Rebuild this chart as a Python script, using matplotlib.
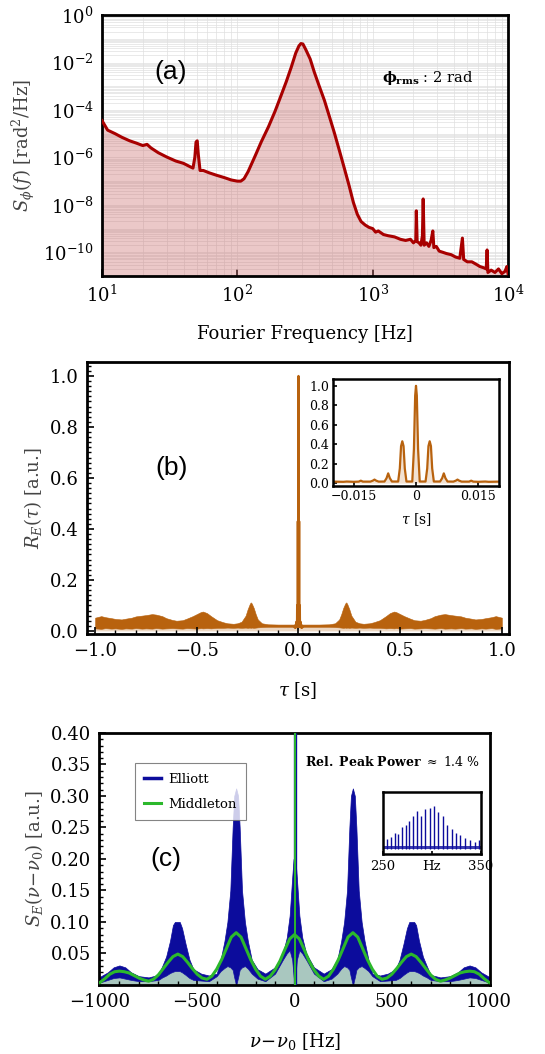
import numpy as np
import matplotlib
matplotlib.use("Agg")
import matplotlib.pyplot as plt
from matplotlib.ticker import (FixedLocator, LogLocator, LogFormatterMathtext,
                               MultipleLocator, NullFormatter, FuncFormatter)

plt.rcParams['font.family'] = ['DejaVu Serif']
plt.rcParams['mathtext.fontset'] = 'dejavuserif'

### DATA ###
# (a) phase noise PSD, frequency [Hz] and log10 of S_phi
a_freq = [10, 11, 12.5, 14, 16, 18, 20, 21.5, 23, 26, 30, 35, 40, 45, 47, 48.5, 49.5, 50.5,
          51.5, 53, 56, 62, 70, 80, 90, 100, 106, 112, 120, 135, 150, 170, 190, 210, 230,
          250, 270, 285, 295, 305, 320, 345, 370, 400, 440, 480, 520, 570, 620, 670, 720,
          770, 820, 880, 940, 1000, 1050, 1100, 1200, 1300, 1450, 1600, 1750, 1900, 2000,
          2080, 2100, 2130, 2200, 2270, 2330, 2360, 2400, 2500, 2600, 2700, 2780, 2830,
          2950, 3100, 3300, 3500, 3800, 4100, 4400, 4600, 4700, 5000, 5400, 5800, 6200,
          6600, 6900, 7000, 7100, 7500, 8000, 8500, 9000, 9500, 9800, 10000]
a_logpsd = [-4.45, -4.85, -5.0, -5.15, -5.3, -5.4, -5.5, -5.45, -5.6, -5.8, -5.98, -6.15,
            -6.25, -6.4, -6.45, -6.0, -5.35, -5.3, -5.9, -6.55, -6.55, -6.65, -6.75, -6.85,
            -6.95, -7.0, -7.0, -6.9, -6.6, -5.95, -5.35, -4.7, -4.05, -3.4, -2.8, -2.2,
            -1.6, -1.3, -1.2, -1.22, -1.45, -1.85, -2.4, -2.95, -3.6, -4.3, -4.95, -5.75,
            -6.5, -7.2, -7.9, -8.4, -8.7, -8.85, -8.95, -9.0, -9.15, -9.1, -9.25, -9.3,
            -9.35, -9.45, -9.5, -9.45, -9.6, -9.5, -8.25, -9.55, -9.6, -9.7, -9.3, -7.75,
            -9.7, -9.6, -9.75, -9.5, -9.1, -9.8, -9.75, -9.95, -10.0, -10.05, -10.1, -10.2,
            -10.25, -9.4, -10.3, -10.4, -10.4, -10.5, -10.6, -10.65, -10.7, -9.9, -10.85,
            -10.75, -10.85, -10.7, -10.9, -10.8, -10.6, -10.9]

# (b) field autocorrelation, envelope of the fast oscillation
b_tau = [-1.0, -0.97, -0.95, -0.92, -0.9, -0.87, -0.85, -0.82, -0.8, -0.77, -0.75, -0.72,
         -0.7, -0.67, -0.65, -0.62, -0.6, -0.57, -0.55, -0.52, -0.5, -0.48, -0.47, -0.45,
         -0.43, -0.4, -0.37, -0.35, -0.32, -0.3, -0.28, -0.26, -0.25, -0.24, -0.235, -0.23,
         -0.22, -0.21, -0.2, -0.18, -0.15, -0.1, -0.05, 0.0,
         0.05, 0.1, 0.15, 0.18, 0.2, 0.21, 0.22, 0.23, 0.235, 0.24, 0.25, 0.26, 0.28, 0.3,
         0.32, 0.35, 0.37, 0.4, 0.43, 0.45, 0.47, 0.48, 0.5, 0.52, 0.55, 0.57, 0.6, 0.62,
         0.65, 0.67, 0.7, 0.72, 0.75, 0.77, 0.8, 0.82, 0.85, 0.87, 0.9, 0.92, 0.95, 0.97, 1.0]
b_upper = [0.052, 0.058, 0.054, 0.050, 0.047, 0.045, 0.048, 0.052, 0.057, 0.060, 0.062,
           0.066, 0.064, 0.058, 0.050, 0.043, 0.040, 0.042, 0.048, 0.058, 0.066, 0.074,
           0.076, 0.070, 0.058, 0.042, 0.034, 0.030, 0.028, 0.030, 0.036, 0.060, 0.085,
           0.105, 0.112, 0.108, 0.090, 0.065, 0.045, 0.030, 0.026, 0.025, 0.025, 0.025,
           0.025, 0.025, 0.026, 0.030, 0.045, 0.065, 0.090, 0.108, 0.112, 0.105, 0.085,
           0.060, 0.036, 0.030, 0.028, 0.030, 0.034, 0.042, 0.058, 0.070, 0.076, 0.074,
           0.066, 0.058, 0.048, 0.042, 0.040, 0.043, 0.050, 0.058, 0.064, 0.066, 0.062,
           0.060, 0.057, 0.052, 0.048, 0.045, 0.047, 0.050, 0.054, 0.058, 0.052]
b_lower = [0.010, 0.008, 0.011, 0.009, 0.010, 0.008, 0.010, 0.009, 0.011, 0.009, 0.010,
           0.009, 0.011, 0.009, 0.010, 0.011, 0.010, 0.009, 0.011, 0.010, 0.009, 0.011,
           0.010, 0.011, 0.010, 0.012, 0.012, 0.013, 0.012, 0.013, 0.012, 0.013, 0.012,
           0.013, 0.012, 0.013, 0.012, 0.013, 0.014, 0.015, 0.016, 0.016, 0.016, 0.016,
           0.016, 0.016, 0.016, 0.015, 0.014, 0.013, 0.012, 0.013, 0.012, 0.013, 0.012,
           0.013, 0.012, 0.013, 0.012, 0.013, 0.012, 0.012, 0.010, 0.011, 0.010, 0.011,
           0.009, 0.010, 0.011, 0.009, 0.010, 0.011, 0.010, 0.009, 0.011, 0.009, 0.010,
           0.009, 0.011, 0.009, 0.010, 0.008, 0.010, 0.009, 0.011, 0.008, 0.010]

# (b) inset, central part of the autocorrelation
bi_tau = [-0.020, -0.0175, -0.0167, -0.0150, -0.0138, -0.0133, -0.0128, -0.0110, -0.0104,
          -0.0100, -0.0096, -0.0090, -0.0076, -0.0071, -0.0067, -0.0063, -0.0058, -0.0043,
          -0.0039, -0.0036, -0.0033, -0.0030, -0.0027, -0.0023, -0.0009, -0.0005, -0.0002,
          0.0, 0.0002, 0.0005, 0.0009, 0.0023, 0.0027, 0.0030, 0.0033, 0.0036, 0.0039,
          0.0043, 0.0058, 0.0063, 0.0067, 0.0071, 0.0076, 0.0090, 0.0096, 0.0100, 0.0104,
          0.0110, 0.0128, 0.0133, 0.0138, 0.0150, 0.0167, 0.0175, 0.020]
bi_r = [0.015, 0.013, 0.016, 0.013, 0.015, 0.025, 0.015, 0.015, 0.025, 0.036, 0.025,
        0.015, 0.016, 0.050, 0.100, 0.050, 0.016, 0.016, 0.150, 0.380, 0.430, 0.380,
        0.150, 0.016, 0.016, 0.350, 0.900, 1.0, 0.900, 0.350, 0.016, 0.016, 0.150, 0.380,
        0.430, 0.380, 0.150, 0.016, 0.016, 0.050, 0.100, 0.050, 0.016, 0.015, 0.025,
        0.036, 0.025, 0.015, 0.015, 0.025, 0.015, 0.013, 0.016, 0.013, 0.015]

# (c) optical spectrum: Elliott (envelopes) and Middleton
c_nu = [-1000, -960, -930, -900, -870, -840, -800, -750, -700, -680, -660, -640, -625,
        -615, -590, -578, -560, -540, -520, -480, -440, -400, -380, -360, -345, -330,
        -318, -310, -300, -290, -282, -270, -255, -240, -220, -190, -150, -100, -60,
        -40, -25, -12, -5, 0,
        5, 12, 25, 40, 60, 100, 150, 190, 220, 240, 255, 270, 282, 290, 300, 310, 318,
        330, 345, 360, 380, 400, 440, 480, 520, 540, 560, 578, 590, 615, 625, 640, 660,
        680, 700, 750, 800, 840, 870, 900, 930, 960, 1000]
c_ell_upper = [0.013, 0.020, 0.028, 0.031, 0.028, 0.020, 0.014, 0.012, 0.016, 0.030,
               0.045, 0.070, 0.095, 0.100, 0.100, 0.090, 0.065, 0.040, 0.025, 0.018,
               0.015, 0.018, 0.040, 0.070, 0.100, 0.150, 0.250, 0.300, 0.312, 0.300,
               0.250, 0.150, 0.100, 0.070, 0.040, 0.025, 0.018, 0.028, 0.050, 0.075,
               0.110, 0.170, 0.200, 0.200,
               0.200, 0.170, 0.110, 0.075, 0.050, 0.028, 0.018, 0.025, 0.040, 0.070,
               0.100, 0.150, 0.250, 0.300, 0.312, 0.300, 0.250, 0.150, 0.100, 0.070,
               0.040, 0.018, 0.015, 0.018, 0.025, 0.040, 0.065, 0.090, 0.100, 0.100,
               0.095, 0.070, 0.045, 0.030, 0.016, 0.012, 0.014, 0.020, 0.028, 0.031,
               0.028, 0.020, 0.013]
c_ell_lower = [0.004, 0.008, 0.011, 0.012, 0.010, 0.008, 0.006, 0.006, 0.008, 0.012,
               0.015, 0.019, 0.021, 0.022, 0.022, 0.020, 0.016, 0.011, 0.008, 0.007,
               0.006, 0.014, 0.022, 0.027, 0.030, 0.028, 0.024, 0.012, 0.0, 0.012,
               0.024, 0.028, 0.030, 0.026, 0.018, 0.010, 0.006, 0.018, 0.040, 0.050,
               0.055, 0.040, 0.015, 0.0,
               0.015, 0.040, 0.055, 0.050, 0.040, 0.018, 0.006, 0.010, 0.018, 0.026,
               0.030, 0.028, 0.024, 0.012, 0.0, 0.012, 0.024, 0.028, 0.030, 0.027,
               0.022, 0.014, 0.006, 0.007, 0.008, 0.011, 0.016, 0.020, 0.022, 0.022,
               0.021, 0.019, 0.015, 0.012, 0.008, 0.006, 0.006, 0.008, 0.010, 0.012,
               0.011, 0.008, 0.004]
c_mid_nu = list(range(-1000, 1001, 25))
c_mid = [0.004, 0.010, 0.017, 0.021, 0.022, 0.021, 0.019, 0.015, 0.011, 0.008, 0.006,
         0.009, 0.016, 0.026, 0.036, 0.045, 0.049, 0.045, 0.036, 0.026, 0.017, 0.011,
         0.009, 0.014, 0.025, 0.040, 0.058, 0.076, 0.083, 0.076, 0.058, 0.040, 0.025,
         0.014, 0.009, 0.014, 0.024, 0.038, 0.056, 0.073, 0.080, 0.073, 0.056, 0.038,
         0.024, 0.014, 0.009, 0.014, 0.025, 0.040, 0.058, 0.076, 0.083, 0.076, 0.058,
         0.040, 0.025, 0.014, 0.009, 0.011, 0.017, 0.026, 0.036, 0.045, 0.049, 0.045,
         0.036, 0.026, 0.016, 0.009, 0.006, 0.008, 0.011, 0.015, 0.019, 0.021, 0.022,
         0.021, 0.017, 0.010, 0.004]

# (c) inset, comb lines between 250 and 350 Hz
ci_nu = [254, 258, 262, 265, 269, 273, 277, 281, 285, 289, 293, 298, 302, 306, 311, 315,
         320, 324, 329, 334, 339, 344, 348]
ci_height = [0.096, 0.112, 0.132, 0.128, 0.176, 0.184, 0.212, 0.248, 0.276, 0.248, 0.288,
             0.296, 0.312, 0.268, 0.244, 0.184, 0.160, 0.136, 0.120, 0.104, 0.092, 0.080,
             0.092]

### STYLE ###
red_line = '#a80000'
red_fill = '#c86464'
orange = '#b8620e'
blue = '#0c0c9c'
teal = '#a9c7bf'
green = '#2cb82c'
label_gray = '#444444'


def minus_fmt(fmt):
    """ >>> tick formatter with a real minus sign """
    return FuncFormatter(lambda v, pos: (fmt % v).replace('-', '\u2212'))


def style_axes(ax, lw=2.0, size=13, pad=6):
    for s in ax.spines.values():
        s.set_linewidth(lw)
    ax.tick_params(which='both', direction='in', labelsize=size, top=False, right=False,
                   pad=pad)
    ax.tick_params(which='major', length=5, width=1.2)
    ax.tick_params(which='minor', length=3, width=1.0)


fig = plt.figure(figsize=(5.45, 10.54), dpi=100)

### (a) ###
ax_a = fig.add_axes([0.1872, 0.7381, 0.745, 0.2476])
ax_a.set_xscale('log')
ax_a.set_yscale('log')
psd = 10.0 ** np.array(a_logpsd)
ax_a.fill_between(a_freq, 1e-11, psd, color=red_fill, alpha=0.35, lw=0, zorder=2)
ax_a.plot(a_freq, psd, color=red_line, lw=2.2, zorder=3)
ax_a.set_xlim(10, 1e4)
ax_a.set_ylim(1e-11, 1)
ax_a.yaxis.set_major_locator(FixedLocator([1e-10, 1e-8, 1e-6, 1e-4, 1e-2, 1e0]))
ax_a.yaxis.set_major_formatter(LogFormatterMathtext())
ax_a.yaxis.set_minor_locator(LogLocator(base=10, subs=np.arange(1, 10), numticks=100))
ax_a.yaxis.set_minor_formatter(NullFormatter())
ax_a.xaxis.set_minor_locator(LogLocator(base=10, subs=np.arange(2, 10), numticks=100))
ax_a.xaxis.set_minor_formatter(NullFormatter())
ax_a.grid(True, which='both', color='#e0e0e0', lw=0.5, zorder=0)
ax_a.set_axisbelow(True)
style_axes(ax_a)
ax_a.tick_params(which='minor', length=0)
ax_a.tick_params(axis='y', which='major', length=0)
ax_a.set_xlabel('Fourier Frequency [Hz]', fontsize=13, labelpad=14)
ax_a.set_ylabel(r'$S_{\phi}(f)$ [rad$^2$/Hz]', fontsize=13, color=label_gray, labelpad=4)
ax_a.text(0.17, 0.78, '(a)', transform=ax_a.transAxes, fontsize=19,
          family='Liberation Sans', ha='center', va='center')
ax_a.text(0.69, 0.76, r'$\mathbf{\phi_{rms}}$ : 2 rad', transform=ax_a.transAxes,
          fontsize=10.5, ha='left', va='center')

### (b) ###
ax_b = fig.add_axes([0.1596, 0.3985, 0.7743, 0.2581])
ax_b.fill_between(b_tau, 0, b_lower, color=orange, alpha=0.25, lw=0)
ax_b.fill_between(b_tau, b_lower, b_upper, color=orange, lw=0.4, edgecolor=orange)
ax_b.plot(bi_tau, bi_r, color=orange, lw=1.6)
ax_b.set_xlim(-1.04, 1.035)
ax_b.set_ylim(-0.012, 1.055)
ax_b.xaxis.set_major_locator(MultipleLocator(0.5))
ax_b.xaxis.set_minor_locator(MultipleLocator(0.1))
ax_b.xaxis.set_major_formatter(minus_fmt('%.1f'))
ax_b.yaxis.set_major_locator(MultipleLocator(0.2))
ax_b.yaxis.set_minor_locator(MultipleLocator(0.02))
ax_b.yaxis.set_major_formatter(minus_fmt('%.1f'))
style_axes(ax_b)
ax_b.set_xlabel(r'$\tau$ [s]', fontsize=13, labelpad=14)
ax_b.set_ylabel(r'$R_E(\tau)$ [a.u.]', fontsize=13, color=label_gray, labelpad=4)
ax_b.text(0.2, 0.61, '(b)', transform=ax_b.transAxes, fontsize=19,
          family='Liberation Sans', ha='center', va='center')

ax_bi = fig.add_axes([0.611, 0.5389, 0.3046, 0.1015])
ax_bi.fill_between(bi_tau, 0, bi_r, color=orange, alpha=0.18, lw=0)
ax_bi.plot(bi_tau, bi_r, color=orange, lw=1.6)
ax_bi.set_xlim(-0.02, 0.02)
ax_bi.set_ylim(-0.03, 1.07)
ax_bi.xaxis.set_major_locator(FixedLocator([-0.015, 0, 0.015]))
ax_bi.set_xticklabels(['\u22120.015', '0', '0.015'])
ax_bi.yaxis.set_major_locator(MultipleLocator(0.2))
ax_bi.yaxis.set_major_formatter(minus_fmt('%.1f'))
style_axes(ax_bi, lw=1.8, size=9, pad=3)
ax_bi.tick_params(which='major', length=3)
ax_bi.set_xlabel(r'$\tau$ [s]', fontsize=10, labelpad=6)

### (c) ###
ax_c = fig.add_axes([0.1817, 0.0655, 0.7174, 0.2391])
ax_c.fill_between(c_nu, 0, c_ell_lower, color=teal, lw=0, zorder=1)
ax_c.fill_between(c_nu, c_ell_lower, c_ell_upper, color=blue, lw=0.5, edgecolor=blue,
                  zorder=2)
ax_c.plot([], [], color=blue, lw=2.5, label='Elliott')
ax_c.plot(c_mid_nu, c_mid, color=green, lw=2.2, zorder=4, label='Middleton')
ax_c.vlines([0], 0, [0.40], color=blue, lw=2.4, zorder=3)
ax_c.vlines([0], 0, [0.40], color=green, lw=1.4, zorder=5)
ax_c.set_xlim(-1005, 1005)
ax_c.set_ylim(0, 0.40)
ax_c.xaxis.set_major_locator(MultipleLocator(500))
ax_c.xaxis.set_minor_locator(MultipleLocator(100))
ax_c.xaxis.set_major_formatter(minus_fmt('%d'))
ax_c.yaxis.set_major_locator(FixedLocator([0.05, 0.10, 0.15, 0.20, 0.25, 0.30, 0.35, 0.40]))
ax_c.yaxis.set_minor_locator(MultipleLocator(0.01))
ax_c.yaxis.set_major_formatter(minus_fmt('%.2f'))
style_axes(ax_c)
ax_c.set_xlabel(r'$\nu\!-\!\nu_0$ [Hz]', fontsize=13, labelpad=14)
ax_c.set_ylabel(r'$S_E(\nu\!-\!\nu_0)$ [a.u.]', fontsize=13, color=label_gray, labelpad=4)
leg = ax_c.legend(loc='upper left', bbox_to_anchor=(0.075, 0.905), fontsize=9.5,
                  frameon=True, fancybox=False, edgecolor='#666666', handlelength=1.3,
                  borderpad=0.7, labelspacing=0.9, handletextpad=0.5)
leg.get_frame().set_linewidth(0.8)
ax_c.text(0.17, 0.5, '(c)', transform=ax_c.transAxes, fontsize=19,
          family='Liberation Sans', ha='center', va='center')
ax_c.text(0.975, 0.885, r'$\mathbf{Rel.\ Peak\ Power}$ $\approx$ 1.4 %',
          transform=ax_c.transAxes, fontsize=9, ha='right', va='center')

ax_ci = fig.add_axes([0.7028, 0.1898, 0.1798, 0.0588])
ax_ci.fill_between([250, 350], 0.03, 0.05, color=blue, lw=0, alpha=0.8)
ax_ci.vlines(ci_nu, 0.03, ci_height, color=blue, lw=1.0)
ax_ci.set_xlim(250, 350)
ax_ci.set_ylim(0, 0.40)
ax_ci.xaxis.set_major_locator(FixedLocator([250, 300, 350]))
ax_ci.set_xticklabels(['250', 'Hz', '350'])
ax_ci.set_yticks([])
style_axes(ax_ci, lw=1.8, size=9.5, pad=4)
ax_ci.tick_params(which='major', length=2)

fig.savefig('out.png', dpi=100)
